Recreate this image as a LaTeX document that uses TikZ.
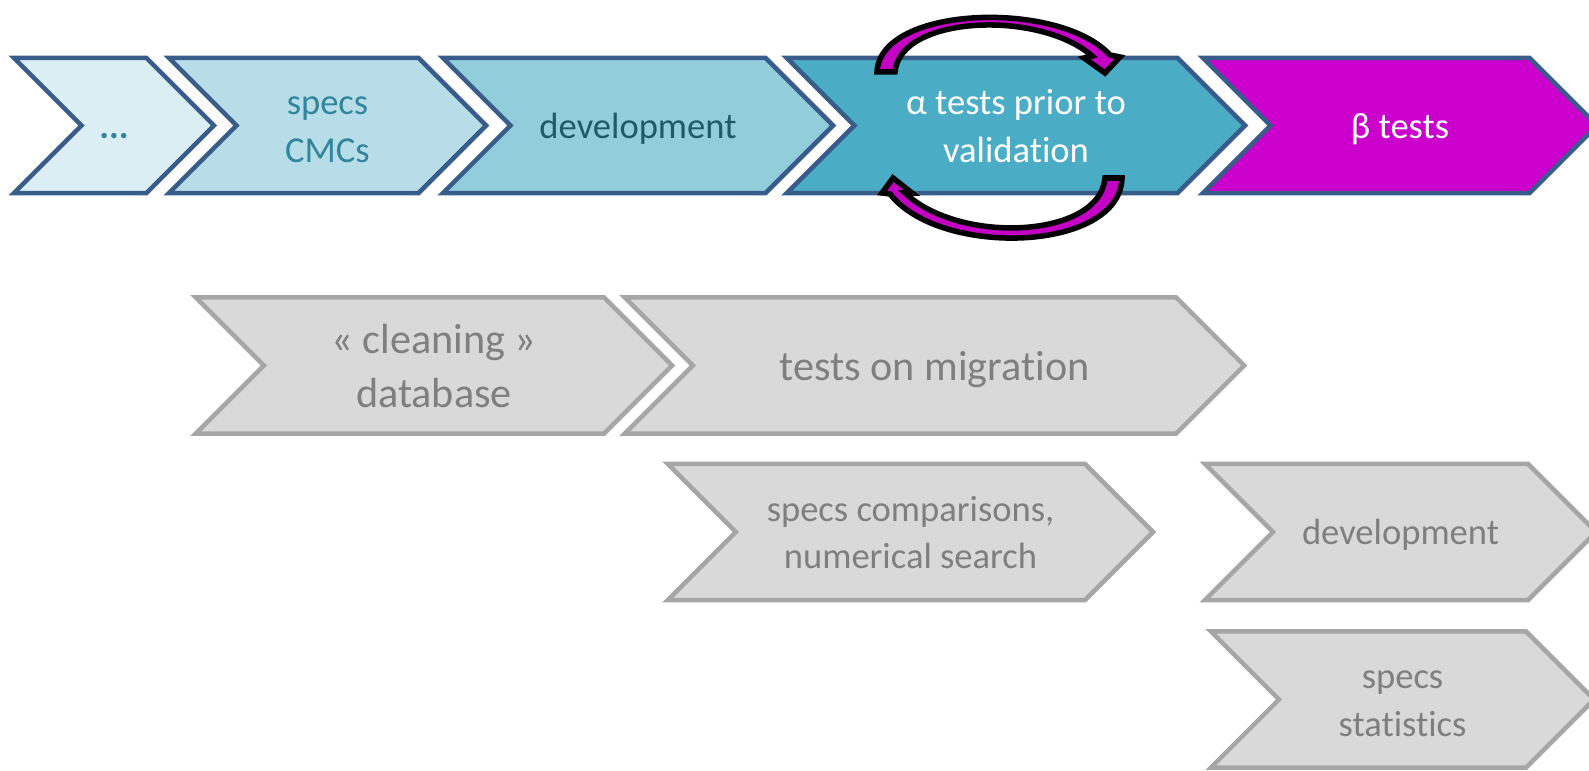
\documentclass[tikz,border=0pt]{standalone}
\usepackage{fontspec}
\setmainfont[Ligatures=NoCommon]{Carlito}
\usetikzlibrary{shapes.symbols}

\definecolor{stepline}{HTML}{385D8A}
\definecolor{stepa}{HTML}{DAEEF3}
\definecolor{stepb}{HTML}{B7DEE8}
\definecolor{stepc}{HTML}{92CDDC}
\definecolor{stepd}{HTML}{4BACC6}
\definecolor{stepe}{HTML}{CC00CC}
\definecolor{teal}{HTML}{31859C}
\definecolor{darkteal}{HTML}{215968}
\definecolor{greyfill}{HTML}{D9D9D9}
\definecolor{greyline}{HTML}{A6A6A6}
\definecolor{greytext}{HTML}{7F7F7F}
\definecolor{loopfill}{HTML}{C400C4}

\newcommand{\chevstrut}{\rule[-0.25em]{0pt}{1.2em}}

\begin{document}
\begin{tikzpicture}[
	x=0.01cm, y=-0.01cm,
	chev/.style={signal, signal to=east, signal from=west, signal pointer angle=90,
		draw=stepline, line width=0.045cm, inner sep=0pt, minimum height=1.35cm,
		align=center, font=\fontsize{10.4}{12.2}\selectfont},
	grey/.style={chev, draw=greyline, fill=greyfill, text=greytext, minimum height=1.36cm},
	bigtext/.style={font=\fontsize{12}{13.3}\selectfont},
	loop/.style={fill=loopfill, draw=black, line width=0.055cm}
	]
\useasboundingbox (0,0) rectangle (1589,770);
\clip (0,0) rectangle (1589,770);

% top row
\node[chev, fill=stepa, text=teal, minimum width=2cm] at (114,125.5) (s1){\chevstrut\textbf{...}\chevstrut};
\node[chev, fill=stepb, text=teal, minimum width=3.17cm] at (327.5,125.5) (s2){\chevstrut specs\\CMCs\chevstrut};
\node[chev, fill=stepc, text=darkteal, minimum width=3.9cm] at (638,125.5) (s3){\chevstrut development\chevstrut};
\node[chev, fill=stepd, text=white, minimum width=4.58cm] at (1016,125.5) (s4){\chevstrut α tests prior to\\validation\chevstrut};
\node[chev, fill=stepe, text=white, minimum width=3.94cm] at (1400,125.5) (s5){\chevstrut β tests\chevstrut};

% loop arrows
\draw[loop] (877,72) -- (895,72) .. controls (900,15) and (1040,10) .. (1092,56)
	-- (1084,58) -- (1105,73) -- (1120,57) -- (1110,55)
	.. controls (1060,0) and (880,5) .. (877,72) -- cycle;
\draw[loop] (1122,178) -- (1105,178) .. controls (1100,238) and (960,245) .. (905,193)
	-- (912,193) -- (893,178) -- (882,193) -- (890,194)
	.. controls (940,258) and (1120,252) .. (1122,178) -- cycle;

% grey rows
\node[grey, bigtext, minimum width=4.76cm] at (434,365.5) (g1){\chevstrut« cleaning »\\database\chevstrut};
\node[grey, bigtext, minimum width=6.19cm] at (934.5,365.5) (g2){\chevstrut tests on migration\chevstrut};
\node[grey, minimum width=4.85cm] at (910.5,532) (g3){\chevstrut specs comparisons,\\numerical search\chevstrut};
\node[grey, minimum width=3.91cm] at (1400.5,532) (g4){\chevstrut development\chevstrut};
\node[grey, minimum width=3.83cm] at (1402.5,699.5) (g5){\chevstrut specs\\statistics\chevstrut};

\end{tikzpicture}
\end{document}
